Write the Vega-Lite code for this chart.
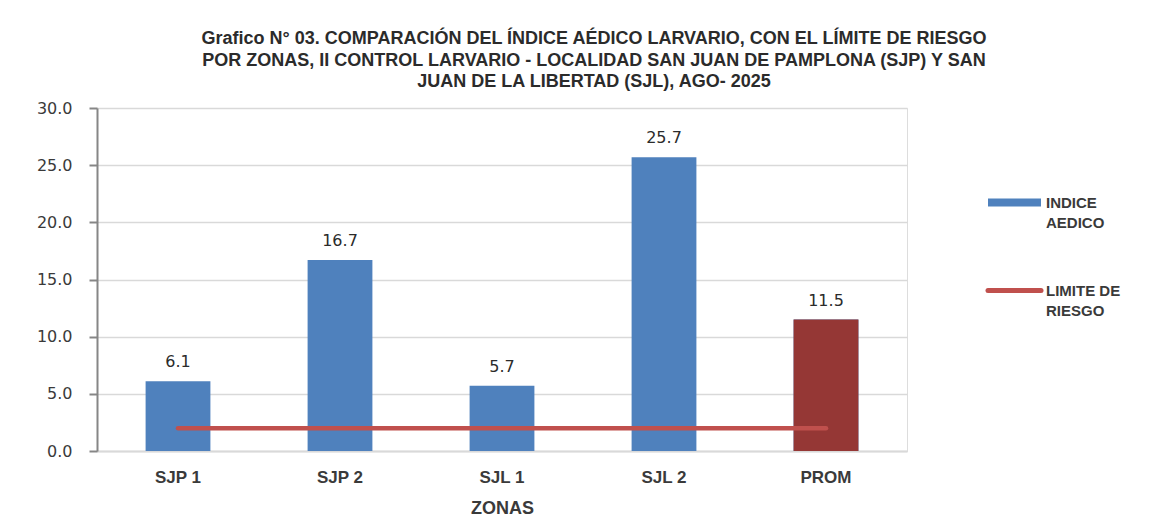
{
  "$schema": "https://vega.github.io/schema/vega-lite/v6.json",
  "width": 810,
  "height": 343,
  "autosize": {"type": "none"},
  "padding": {"left": 97, "top": 108, "right": 266, "bottom": 81},
  "background": "white",
  "title": {
    "text": [
      "Grafico N° 03. COMPARACIÓN DEL  ÍNDICE AÉDICO LARVARIO, CON EL LÍMITE DE RIESGO",
      "POR ZONAS, II CONTROL LARVARIO - LOCALIDAD SAN JUAN DE PAMPLONA (SJP) Y SAN",
      "JUAN DE LA LIBERTAD (SJL),  AGO- 2025"
    ],
    "anchor": "middle",
    "frame": "group",
    "dx": 92,
    "offset": 9,
    "font": "Liberation Sans",
    "fontSize": 18,
    "fontWeight": "bold",
    "lineHeight": 21.5,
    "color": "#2b2b2b"
  },
  "data": {
    "values": [
      {"zona": "SJP 1", "indice": 6.1, "limite": 2.0},
      {"zona": "SJP 2", "indice": 16.7, "limite": 2.0},
      {"zona": "SJL 1", "indice": 5.7, "limite": 2.0},
      {"zona": "SJL 2", "indice": 25.7, "limite": 2.0},
      {"zona": "PROM", "indice": 11.5, "limite": 2.0}
    ]
  },
  "encoding": {
    "x": {
      "field": "zona",
      "type": "nominal",
      "sort": null,
      "scale": {"paddingInner": 0.6, "paddingOuter": 0.3},
      "axis": {
        "title": "ZONAS",
        "labelAngle": 0,
        "ticks": false,
        "domainColor": "#D9D9D9",
        "domainWidth": 2,
        "labelFont": "Liberation Sans",
        "labelFontSize": 17,
        "labelFontWeight": "bold",
        "labelColor": "#3a3a3a",
        "labelPadding": 18,
        "titleFont": "Liberation Sans",
        "titleFontSize": 18,
        "titleFontWeight": "bold",
        "titleColor": "#3a3a3a",
        "titlePadding": 14
      }
    }
  },
  "layer": [
    {
      "mark": {"type": "bar", "color": "#4F81BD"},
      "encoding": {
        "y": {
          "field": "indice",
          "type": "quantitative",
          "scale": {"domain": [0, 30], "nice": false},
          "axis": {
            "title": null,
            "values": [0, 5, 10, 15, 20, 25, 30],
            "format": ".1f",
            "grid": true,
            "gridColor": "#D9D9D9",
            "gridWidth": 1.5,
            "domainColor": "#868686",
            "domainWidth": 2,
            "tickColor": "#868686",
            "tickWidth": 2,
            "tickSize": 8,
            "labelFont": "DejaVu Sans",
            "labelFontSize": 16,
            "labelColor": "#3a3a3a",
            "labelPadding": 17
          }
        },
        "color": {
          "datum": "INDICE AEDICO",
          "type": "nominal",
          "scale": {"domain": ["INDICE AEDICO", "LIMITE DE RIESGO"], "range": ["#4F81BD", "#C0504D"]},
          "legend": {
            "title": null,
            "orient": "none",
            "legendX": 910,
            "legendY": 87,
            "padding": 0,
            "symbolType": "stroke",
            "symbolSize": 2809,
            "rowPadding": 49,
            "labelOffset": 24,
            "labelFont": "Liberation Sans",
            "labelFontSize": 15,
            "labelFontWeight": "bold",
            "labelColor": "#3a3a3a",
            "labelBaseline": "alphabetic",
            "labelLimit": 200,
            "labelExpr": "datum.label == 'INDICE AEDICO' ? ['INDICE', 'AEDICO'] : ['LIMITE DE', 'RIESGO']",
            "encode": {
              "symbols": {
                "update": {
                  "stroke": {"scale": "color", "field": "value"},
                  "strokeWidth": {"signal": "datum.value == 'INDICE AEDICO' ? 8 : 5"},
                  "strokeCap": {"signal": "datum.value == 'INDICE AEDICO' ? 'butt' : 'round'"}
                }
              },
              "labels": {
                "update": {
                  "lineHeight": {"value": 20},
                  "dy": {"value": 5}
                }
              }
            }
          }
        }
      }
    },
    {
      "transform": [{"filter": "datum.zona === 'PROM'"}],
      "mark": {"type": "bar", "color": "#953735"},
      "encoding": {
        "y": {"field": "indice", "type": "quantitative"}
      }
    },
    {
      "mark": {"type": "line", "strokeWidth": 4.5, "strokeCap": "round"},
      "encoding": {
        "y": {"field": "limite", "type": "quantitative"},
        "color": {"datum": "LIMITE DE RIESGO", "type": "nominal"}
      }
    },
    {
      "mark": {
        "type": "text",
        "baseline": "middle",
        "dy": -19,
        "font": "DejaVu Sans",
        "fontSize": 16,
        "color": "#2b2b2b"
      },
      "encoding": {
        "y": {"field": "indice", "type": "quantitative"},
        "text": {"field": "indice", "type": "quantitative", "format": ".1f"}
      }
    }
  ]
}
